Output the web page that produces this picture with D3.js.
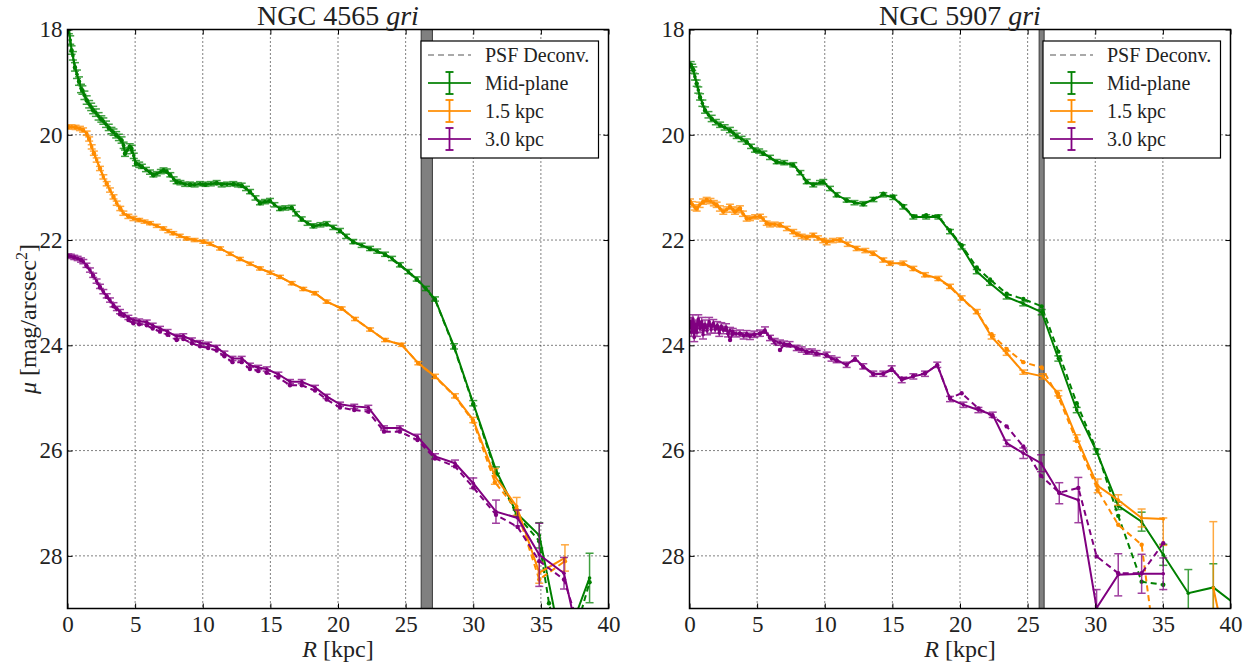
<!DOCTYPE html>
<html><head><meta charset="utf-8">
<script src="https://cdn.jsdelivr.net/npm/d3@7"></script>
<style>html,body{margin:0;padding:0;background:#fff;}svg{display:block;} svg text{font-family:'Liberation Serif','DejaVu Serif',serif;}</style>
</head><body>
<svg id="chart" width="1251" height="668"></svg>
<script>
// ---------- DATA ----------
const xTicks = [0,5,10,15,20,25,30,35,40];
const yTicks = [18,20,22,24,26,28];
const legendLabels = ["PSF Deconv.","Mid-plane","1.5 kpc","3.0 kpc"];
const galaxies = ["NGC 4565","NGC 5907"];
const maskBand4565 = [26.15, 26.98];
const maskBand5907 = [25.85, 26.22];

// NGC 4565 — [R kpc, mu, err]
const n4565_mid = [[0.1,18.0,0.08],[0.2,18.2,0.08],[0.3,18.39,0.08],[0.4,18.5,0.08],[0.55,18.71,0.08],[0.7,18.85,0.08],[0.85,18.98,0.08],[1.0,19.12,0.08],[1.1,19.15,0.08],[1.25,19.25,0.08],[1.42,19.34,0.08],[1.6,19.42,0.07],[1.75,19.47,0.07],[1.9,19.53,0.07],[2.1,19.58,0.07],[2.3,19.65,0.07],[2.5,19.7,0.06],[2.65,19.74,0.06],[2.85,19.8,0.06],[3.05,19.86,0.06],[3.25,19.92,0.06],[3.4,19.95,0.06],[3.6,20.0,0.06],[3.8,20.05,0.06],[4.0,20.1,0.06],[4.15,20.2,0.06],[4.25,20.35,0.06],[4.4,20.3,0.06],[4.6,20.22,0.05],[4.75,20.25,0.05],[4.9,20.4,0.05],[5.06,20.54,0.05],[5.3,20.57,0.05],[5.5,20.6,0.04],[5.8,20.66,0.04],[6.1,20.71,0.04],[6.35,20.76,0.04],[6.6,20.74,0.04],[6.9,20.7,0.04],[7.1,20.67,0.04],[7.35,20.69,0.04],[7.6,20.76,0.04],[7.85,20.84,0.04],[8.07,20.89,0.04],[8.35,20.91,0.04],[8.7,20.94,0.04],[9.06,20.94,0.04],[9.4,20.95,0.04],[9.8,20.93,0.04],[10.2,20.94,0.04],[10.6,20.93,0.04],[11.03,20.91,0.04],[11.4,20.95,0.04],[11.8,20.94,0.04],[12.26,20.93,0.04],[12.6,20.95,0.04],[12.88,20.96,0.04],[13.2,21.02,0.04],[13.5,21.08,0.04],[13.9,21.2,0.04],[14.23,21.29,0.04],[14.6,21.27,0.04],[14.97,21.25,0.04],[15.3,21.33,0.04],[15.71,21.4,0.04],[16.1,21.39,0.04],[16.58,21.38,0.04],[16.9,21.5,0.04],[17.32,21.6,0.04],[17.75,21.68,0.04],[18.18,21.73,0.04],[18.7,21.71,0.04],[19.16,21.69,0.04],[19.65,21.76,0.04],[20.15,21.82,0.04],[20.6,21.93,0.04],[21.13,22.03,0.04],[21.75,22.1,0.04],[22.37,22.16,0.04],[22.9,22.21,0.04],[23.48,22.27,0.04],[24.0,22.35,0.04],[24.58,22.47,0.04],[25.2,22.6,0.04],[25.82,22.74,0.04],[26.5,22.92,0.04],[27.17,23.12,0.04],[28.58,24.02,0.05],[30.0,25.1,0.05],[31.68,26.37,0.06],[33.21,27.19,0.06],[34.88,27.61,0.24],[36.6,29.8,0.4],[38.6,28.42,0.47]];
const n4565_mid_psf = [[0.1,18.0],[0.3,18.4],[0.55,18.72],[0.85,18.99],[1.1,19.16],[1.42,19.35],[1.9,19.54],[2.5,19.71],[3.05,19.87],[3.6,20.01],[4.0,20.11],[4.25,20.36],[4.6,20.23],[5.06,20.55],[5.5,20.61],[6.35,20.77],[7.1,20.68],[7.6,20.77],[8.07,20.9],[9.06,20.95],[10.2,20.95],[11.03,20.92],[12.26,20.94],[12.88,20.97],[13.5,21.09],[14.23,21.3],[14.97,21.26],[15.71,21.41],[16.58,21.39],[17.32,21.61],[18.18,21.74],[19.16,21.7],[20.15,21.83],[21.13,22.04],[22.37,22.17],[23.48,22.28],[24.58,22.48],[25.82,22.75],[27.17,23.13],[28.58,24.04],[30.0,25.12],[31.68,26.42],[33.21,27.22],[34.88,27.72],[35.6,28.9],[36.6,29.9],[37.6,29.4],[38.6,28.5]];
const n4565_15 = [[0.06,19.85,0.04],[0.3,19.85,0.04],[0.6,19.86,0.04],[0.92,19.88,0.04],[1.15,19.91,0.04],[1.42,19.97,0.04],[1.6,20.08,0.04],[1.79,20.23,0.04],[1.95,20.35,0.04],[2.16,20.48,0.04],[2.4,20.64,0.04],[2.65,20.8,0.04],[2.9,20.93,0.04],[3.14,21.05,0.04],[3.4,21.18,0.04],[3.64,21.3,0.04],[3.9,21.4,0.04],[4.13,21.49,0.04],[4.5,21.55,0.04],[4.87,21.59,0.04],[5.3,21.62,0.03],[5.7,21.65,0.03],[6.1,21.68,0.03],[6.6,21.73,0.03],[7.08,21.78,0.03],[7.45,21.83,0.03],[7.82,21.87,0.03],[8.3,21.92,0.03],[8.81,21.97,0.03],[9.4,22.0,0.03],[10.04,22.03,0.03],[10.54,22.07,0.03],[11.28,22.16,0.03],[12.0,22.26,0.03],[12.75,22.36,0.03],[13.5,22.45,0.03],[14.23,22.54,0.03],[15.0,22.62,0.03],[15.71,22.7,0.03],[16.58,22.82,0.03],[17.43,22.93,0.03],[18.3,23.01,0.03],[19.16,23.17,0.03],[20.27,23.3,0.03],[21.26,23.5,0.03],[22.37,23.7,0.03],[23.48,23.9,0.03],[24.71,23.99,0.03],[25.94,24.34,0.03],[27.17,24.59,0.04],[28.65,24.96,0.04],[30.0,25.42,0.05],[31.6,26.49,0.15],[33.21,27.06,0.17],[34.88,28.32,0.2],[36.78,28.04,0.25]];
const n4565_15_psf = [[0.06,19.85],[0.6,19.86],[1.15,19.91],[1.6,20.08],[1.95,20.35],[2.4,20.64],[2.9,20.93],[3.4,21.18],[3.9,21.4],[4.5,21.55],[5.3,21.62],[6.1,21.68],[7.08,21.78],[7.82,21.87],[8.81,21.97],[10.04,22.03],[11.28,22.16],[12.75,22.36],[14.23,22.54],[15.71,22.7],[16.58,22.82],[17.43,22.93],[18.3,23.01],[19.16,23.17],[20.27,23.3],[21.26,23.5],[22.37,23.7],[23.48,23.9],[24.71,23.99],[25.94,24.34],[27.17,24.6],[28.65,24.97],[30.0,25.45],[31.6,26.6],[33.21,27.12],[34.88,28.45],[36.78,28.1]];
const n4565_30 = [[0.06,22.3,0.04],[0.25,22.31,0.04],[0.5,22.33,0.04],[0.75,22.35,0.04],[1.0,22.38,0.04],[1.17,22.41,0.04],[1.4,22.48,0.04],[1.66,22.57,0.04],[1.9,22.67,0.04],[2.15,22.78,0.04],[2.4,22.88,0.04],[2.65,22.98,0.04],[2.9,23.06,0.04],[3.14,23.14,0.04],[3.4,23.23,0.04],[3.65,23.3,0.04],[3.88,23.36,0.04],[4.2,23.42,0.04],[4.5,23.47,0.04],[4.87,23.52,0.04],[5.3,23.54,0.04],[5.86,23.56,0.04],[6.3,23.62,0.04],[6.84,23.68,0.04],[7.4,23.74,0.04],[8.07,23.83,0.04],[8.56,23.82,0.04],[9.2,23.9,0.04],[9.8,23.95,0.04],[10.4,23.98,0.04],[11.03,24.04,0.04],[11.6,24.15,0.04],[12.2,24.25,0.04],[12.88,24.25,0.04],[13.49,24.38,0.04],[14.1,24.42,0.04],[14.73,24.45,0.04],[15.59,24.55,0.04],[16.45,24.69,0.04],[17.32,24.69,0.04],[18.3,24.8,0.04],[19.16,24.97,0.04],[20.15,25.12,0.04],[21.2,25.16,0.04],[22.24,25.18,0.04],[23.4,25.57,0.04],[24.58,25.57,0.04],[25.88,25.74,0.05],[27.17,26.11,0.05],[28.65,26.24,0.06],[30.0,26.62,0.1],[31.68,27.16,0.22],[33.28,27.28,0.15],[34.88,27.98,0.6],[36.71,28.33,0.3],[38.4,30.3,0.3]];
const n4565_30_psf = [[0.06,22.3],[0.5,22.33],[1.0,22.38],[1.4,22.49],[1.9,22.68],[2.4,22.9],[2.9,23.08],[3.4,23.26],[3.88,23.41],[4.5,23.52],[4.87,23.58],[5.3,23.6],[5.86,23.62],[6.3,23.68],[6.84,23.74],[7.4,23.8],[8.07,23.9],[8.56,23.88],[9.2,23.96],[9.8,24.02],[10.4,24.05],[11.03,24.1],[11.6,24.21],[12.2,24.32],[12.88,24.32],[13.49,24.45],[14.1,24.49],[14.73,24.52],[15.59,24.61],[16.45,24.76],[17.32,24.76],[18.3,24.86],[19.16,25.03],[20.15,25.18],[21.2,25.23],[22.24,25.26],[23.4,25.64],[24.58,25.64],[25.88,25.8],[27.17,26.15],[28.65,26.3],[30.0,26.7],[31.68,27.22],[33.28,27.45],[34.88,28.1],[36.71,28.45],[38.0,29.5]];

// NGC 5907 — [R kpc, mu, err] (err may be [up, down])
const n5907_mid = [[0.09,18.67,0.06],[0.2,18.72,0.06],[0.28,18.77,0.06],[0.4,18.9,0.06],[0.53,19.02,0.06],[0.65,19.15,0.06],[0.78,19.28,0.06],[0.95,19.4,0.06],[1.15,19.53,0.06],[1.4,19.62,0.06],[1.64,19.69,0.06],[1.95,19.76,0.05],[2.26,19.81,0.05],[2.6,19.86,0.05],[2.99,19.91,0.05],[3.25,19.97,0.05],[3.49,20.02,0.05],[3.85,20.08,0.05],[4.23,20.13,0.05],[4.55,20.22,0.04],[4.84,20.29,0.04],[5.15,20.31,0.04],[5.46,20.35,0.04],[5.95,20.43,0.04],[6.45,20.51,0.04],[7.0,20.53,0.04],[7.67,20.57,0.04],[8.2,20.72,0.04],[8.67,20.89,0.04],[9.15,20.95,0.04],[9.65,20.91,0.04],[9.89,20.89,0.04],[10.39,21.02,0.04],[10.88,21.14,0.04],[11.62,21.24,0.04],[12.2,21.29,0.04],[12.85,21.31,0.04],[13.6,21.23,0.04],[14.33,21.14,0.04],[15.07,21.19,0.04],[15.81,21.37,0.04],[16.55,21.56,0.04],[17.5,21.56,0.04],[18.4,21.56,0.04],[19.26,21.84,0.04],[20.12,22.13,0.04],[21.24,22.6,0.04],[22.22,22.82,0.04],[23.45,23.08,0.04],[24.68,23.21,0.04],[26.04,23.37,0.05],[27.27,24.25,0.05],[28.63,25.23,0.05],[30.1,26.02,0.05],[31.7,27.05,0.07],[33.43,27.35,0.18],[35.03,27.98,0.2],[36.88,28.71,0.45],[38.73,28.6,0.45],[40.5,28.95,0.45]];
const n5907_mid_psf = [[0.09,18.67],[0.28,18.77],[0.53,19.03],[0.78,19.29],[1.15,19.54],[1.64,19.7],[2.26,19.82],[2.99,19.92],[3.49,20.03],[4.23,20.14],[4.84,20.3],[5.46,20.36],[6.45,20.52],[7.67,20.58],[8.67,20.9],[9.15,20.95],[9.89,20.9],[10.88,21.15],[11.62,21.25],[12.85,21.32],[13.6,21.22],[14.33,21.12],[15.07,21.17],[15.81,21.35],[16.55,21.55],[17.5,21.53],[18.4,21.55],[19.26,21.82],[20.12,22.1],[21.24,22.52],[22.22,22.75],[23.45,23.02],[24.68,23.12],[26.04,23.26],[27.27,24.12],[28.63,25.1],[30.1,25.99],[31.7,27.24],[33.43,28.49],[35.03,28.55]];
const n5907_15 = [[0.04,21.27,0.05],[0.2,21.32,0.05],[0.4,21.38,0.05],[0.53,21.4,0.05],[0.75,21.33,0.05],[1.0,21.27,0.05],[1.27,21.24,0.05],[1.55,21.26,0.05],[1.8,21.3,0.05],[2.01,21.33,0.05],[2.25,21.4,0.05],[2.5,21.46,0.05],[2.75,21.42,0.05],[2.99,21.37,0.05],[3.2,21.42,0.05],[3.36,21.46,0.05],[3.55,21.43,0.05],[3.73,21.4,0.05],[3.95,21.5,0.05],[4.23,21.59,0.05],[4.47,21.59,0.04],[4.85,21.56,0.04],[5.21,21.55,0.04],[5.45,21.6,0.04],[5.71,21.68,0.04],[5.95,21.71,0.04],[6.3,21.7,0.04],[6.69,21.71,0.04],[7.2,21.78,0.04],[7.67,21.84,0.04],[7.93,21.89,0.04],[8.3,21.93,0.04],[8.67,21.95,0.04],[9.15,21.91,0.04],[9.5,21.96,0.04],[9.89,22.01,0.04],[10.14,22.05,0.04],[10.6,22.01,0.04],[11.13,22.0,0.04],[11.7,22.08,0.04],[12.36,22.16,0.04],[13.0,22.2,0.04],[13.59,22.25,0.04],[14.33,22.38,0.04],[14.82,22.44,0.04],[15.81,22.44,0.04],[16.55,22.54,0.04],[17.41,22.66,0.04],[18.4,22.73,0.04],[19.26,22.88,0.04],[20.12,23.1,0.04],[21.24,23.36,0.04],[22.34,23.84,0.04],[23.45,24.15,0.04],[24.68,24.51,0.04],[26.11,24.59,0.05],[27.27,24.91,0.05],[28.63,25.76,0.06],[30.18,26.67,0.13],[31.7,26.94,0.1],[33.43,27.28,0.17],[35.03,27.3,[0.02,0.5]],[36.88,null,0],[38.73,28.61,1.26],[40.3,30.5,0]];
const n5907_15_psf = [[0.04,21.27],[0.53,21.4],[1.0,21.28],[1.27,21.24],[2.01,21.34],[2.5,21.46],[2.99,21.37],[3.36,21.46],[3.73,21.4],[4.23,21.59],[5.21,21.55],[5.71,21.68],[6.69,21.72],[7.67,21.85],[8.67,21.95],[9.15,21.91],[9.89,22.01],[11.13,22.0],[12.36,22.16],[13.59,22.26],[14.33,22.38],[14.82,22.44],[15.81,22.45],[16.55,22.55],[17.41,22.67],[18.4,22.74],[19.26,22.89],[20.12,23.11],[21.24,23.37],[22.34,23.79],[23.45,24.07],[24.68,24.32],[26.04,24.42],[27.27,24.98],[28.63,25.82],[30.18,26.75],[31.7,27.41],[33.43,27.79],[34.2,29.3]];
const n5907_30 = [[0.04,23.55,0.08],[0.15,23.75,0.08],[0.25,23.5,0.08],[0.35,23.85,0.08],[0.45,23.6,0.08],[0.55,23.75,0.08],[0.65,23.5,0.08],[0.78,23.68,0.08],[0.9,23.55,0.08],[1.0,23.8,0.08],[1.15,23.6,0.08],[1.3,23.72,0.08],[1.45,23.55,0.08],[1.6,23.7,0.07],[1.76,23.58,0.07],[1.9,23.7,0.07],[2.05,23.62,0.07],[2.2,23.76,0.07],[2.35,23.64,0.07],[2.5,23.71,0.07],[2.7,23.66,0.07],[2.85,23.78,0.06],[3.0,23.72,0.06],[3.2,23.74,0.06],[3.45,23.78,0.06],[3.73,23.77,0.06],[4.0,23.82,0.06],[4.23,23.78,0.06],[4.47,23.83,0.06],[4.8,23.79,0.06],[5.21,23.77,0.06],[5.58,23.71,0.06],[5.95,23.86,0.05],[6.3,23.92,0.05],[6.69,23.95,0.05],[7.0,23.97,0.05],[7.4,23.98,0.05],[7.93,24.05,0.05],[8.3,24.08,0.05],[8.67,24.12,0.05],[9.05,24.12,0.05],[9.4,24.15,0.05],[10.14,24.18,0.05],[10.5,24.25,0.05],[10.88,24.28,0.05],[11.62,24.37,0.05],[12.24,24.25,0.05],[12.85,24.4,0.05],[13.59,24.54,0.05],[14.33,24.54,0.05],[14.95,24.44,0.05],[15.69,24.66,0.05],[16.55,24.59,0.05],[17.41,24.54,0.05],[18.32,24.37,0.05],[19.26,25.02,0.05],[20.25,25.13,0.05],[21.36,25.23,0.05],[22.42,25.32,0.05],[23.45,25.86,0.06],[24.68,26.05,0.1],[25.99,26.24,0.16],[27.34,26.81,0.2],[28.75,26.94,0.43],[30.1,28.99,0.35],[31.7,28.36,0.4],[33.43,28.34,0.37],[35.03,28.34,0.3]];
const n5907_30_psf = [[0.04,23.6],[0.25,23.55],[0.45,23.65],[0.65,23.55],[0.9,23.6],[1.15,23.65],[1.45,23.6],[1.76,23.62],[2.05,23.66],[2.35,23.67],[2.7,23.7],[3.0,23.9],[3.2,23.78],[3.73,23.78],[4.23,23.8],[4.8,23.8],[5.21,23.78],[5.58,23.74],[5.95,23.85],[6.69,24.09],[7.0,23.99],[7.93,24.06],[8.67,24.13],[9.4,24.16],[10.14,24.19],[10.88,24.29],[11.62,24.37],[12.24,24.27],[12.85,24.41],[13.59,24.55],[14.33,24.54],[14.95,24.47],[15.69,24.63],[16.55,24.58],[17.41,24.53],[18.32,24.38],[19.26,25.0],[20.12,24.91],[21.36,25.2],[22.42,25.35],[23.45,25.54],[24.68,25.92],[25.99,26.48],[27.34,26.8],[28.75,26.71],[30.1,28.01],[31.7,28.33],[33.43,28.33],[35.03,27.76]];

// ---------- STYLE / LAYOUT ----------
const colors = {mid:"#008000", k15:"#ff8c00", k30:"#800080"};
const FONT = "'Liberation Serif','DejaVu Serif',serif";
const plotTop = 29.5, plotBottom = 608.5, pw = 541;
const panels = [
  {title: galaxies[0], left: 67.5, band: maskBand4565, ylabel: true,
   series: [[n4565_mid,n4565_mid_psf,colors.mid],[n4565_15,n4565_15_psf,colors.k15],[n4565_30,n4565_30_psf,colors.k30]]},
  {title: galaxies[1], left: 689.5, band: maskBand5907, ylabel: false,
   series: [[n5907_mid,n5907_mid_psf,colors.mid],[n5907_15,n5907_15_psf,colors.k15],[n5907_30,n5907_30_psf,colors.k30]]}
];

const svg = d3.select("#chart");
svg.append("rect").attr("width",1251).attr("height",668).attr("fill","#fff");

panels.forEach((p, pi) => {
  const x = d3.scaleLinear().domain([0,40]).range([p.left, p.left + pw]);
  const y = d3.scaleLinear().domain([18,29]).range([plotTop, plotBottom]);
  const g = svg.append("g");
  const clipId = "clip" + pi;
  svg.append("clipPath").attr("id", clipId).append("rect")
     .attr("x", p.left).attr("y", plotTop).attr("width", pw).attr("height", plotBottom - plotTop);

  const grid = g.append("g").attr("stroke","#000").attr("stroke-width",1).attr("stroke-dasharray","1,3").attr("fill","none");
  xTicks.slice(1,-1).forEach(t => grid.append("line").attr("x1",x(t)).attr("x2",x(t)).attr("y1",plotTop).attr("y2",plotBottom));
  yTicks.slice(1).forEach(t => grid.append("line").attr("x1",p.left).attr("x2",p.left+pw).attr("y1",y(t)).attr("y2",y(t)));

  g.append("rect").attr("x", x(p.band[0])).attr("y", plotTop).attr("width", x(p.band[1]) - x(p.band[0]))
   .attr("height", plotBottom - plotTop).attr("fill","#808080").attr("stroke","#3a3a3a").attr("stroke-width",1);

  const plot = g.append("g").attr("clip-path", `url(#${clipId})`);
  const line = d3.line().defined(d => d[1] !== null).x(d => x(d[0])).y(d => y(d[1]));

  p.series.forEach(([solid, psf, col]) => {
    plot.append("path").datum(psf).attr("d", line).attr("fill","none").attr("stroke",col)
      .attr("stroke-width",2).attr("stroke-dasharray","6,4");
    plot.append("g").selectAll("circle").data(psf).join("circle")
      .attr("cx", d => x(d[0])).attr("cy", d => y(d[1])).attr("r",2.2).attr("fill",col);
    plot.append("path").datum(solid).attr("d", line).attr("fill","none").attr("stroke",col).attr("stroke-width",2);
    const eb = plot.append("g").attr("stroke",col).attr("stroke-width",1.5).attr("opacity",0.75);
    solid.filter(d => d[1] !== null && d[2]).forEach(d => {
      const up = Array.isArray(d[2]) ? d[2][0] : d[2];
      const dn = Array.isArray(d[2]) ? d[2][1] : d[2];
      const cx = x(d[0]), y1 = y(d[1] - up), y2 = y(d[1] + dn);
      eb.append("line").attr("x1",cx).attr("x2",cx).attr("y1",y1).attr("y2",y2);
      eb.append("line").attr("x1",cx-4).attr("x2",cx+4).attr("y1",y1).attr("y2",y1);
      eb.append("line").attr("x1",cx-4).attr("x2",cx+4).attr("y1",y2).attr("y2",y2);
    });
    plot.append("g").selectAll("circle").data(solid.filter(d => d[1] !== null)).join("circle")
      .attr("cx", d => x(d[0])).attr("cy", d => y(d[1])).attr("r",1.8).attr("fill",col);
  });

  const styleAxis = sel => {
    sel.attr("font-family", FONT).attr("font-size", 23);
    sel.select(".domain").remove();
    sel.selectAll(".tick line").attr("stroke","#000").attr("stroke-width",1);
    sel.selectAll("text").style("font-family",FONT).style("font-size","23px").attr("fill","#222");
  };
  g.append("g").attr("transform",`translate(0,${plotBottom})`)
    .call(d3.axisBottom(x).tickValues(xTicks).tickSize(-5).tickPadding(7).tickFormat(d3.format("d"))).call(styleAxis);
  g.append("g").attr("transform",`translate(0,${plotTop})`)
    .call(d3.axisTop(x).tickValues(xTicks).tickSize(-5).tickFormat("")).call(styleAxis);
  g.append("g").attr("transform",`translate(${p.left},0)`)
    .call(d3.axisLeft(y).tickValues(yTicks).tickSize(-5).tickPadding(5).tickFormat(d3.format("d"))).call(styleAxis);
  g.append("g").attr("transform",`translate(${p.left+pw},0)`)
    .call(d3.axisRight(y).tickValues(yTicks).tickSize(-5).tickFormat("")).call(styleAxis);

  g.append("rect").attr("x",p.left).attr("y",plotTop).attr("width",pw).attr("height",plotBottom-plotTop)
    .attr("fill","none").attr("stroke","#000").attr("stroke-width",1.5);

  const cx = p.left + pw/2;
  const t = g.append("text").attr("x",cx).attr("y",25).attr("text-anchor","middle")
    .style("font-family",FONT).attr("font-size",28).attr("fill","#222");
  t.append("tspan").text(p.title + " ");
  t.append("tspan").attr("font-style","italic").text("gri");

  const xl = g.append("text").attr("x",cx).attr("y",657).attr("text-anchor","middle")
    .style("font-family",FONT).attr("font-size",24).attr("fill","#222");
  xl.append("tspan").attr("font-style","italic").text("R");
  xl.append("tspan").text(" [kpc]");

  if (p.ylabel) {
    const yl = g.append("text").attr("transform",`translate(36,${(plotTop+plotBottom)/2}) rotate(-90)`)
      .attr("text-anchor","middle").style("font-family",FONT).attr("font-size",24).attr("fill","#222");
    yl.append("tspan").attr("font-style","italic").text("μ");
    yl.append("tspan").text(" [mag/arcsec");
    yl.append("tspan").attr("font-size",16).attr("dy",-9).text("2");
    yl.append("tspan").attr("dy",9).text("]");
  }

  const lx = p.left + pw - 187.5, ly = 41, lw = 177.5, lh = 117;
  const lg = g.append("g");
  lg.append("rect").attr("x",lx).attr("y",ly).attr("width",lw).attr("height",lh)
    .attr("fill","#fff").attr("stroke","#000").attr("stroke-width",1.2);
  const rows = [14, 42, 70, 98];
  const legCols = ["#555", colors.mid, colors.k15, colors.k30];
  legendLabels.forEach((lab, i) => {
    const ry = ly + rows[i];
    const x1 = lx + 7, x2 = lx + 50, xm = (x1 + x2) / 2;
    if (i === 0) {
      lg.append("line").attr("x1",x1).attr("x2",x2).attr("y1",ry).attr("y2",ry)
        .attr("stroke",legCols[i]).attr("stroke-width",1.2).attr("stroke-dasharray","6,4");
    } else {
      lg.append("line").attr("x1",x1).attr("x2",x2).attr("y1",ry).attr("y2",ry)
        .attr("stroke",legCols[i]).attr("stroke-width",2).attr("opacity",0.85);
      const e = lg.append("g").attr("stroke",legCols[i]).attr("stroke-width",1.8);
      e.append("line").attr("x1",xm).attr("x2",xm).attr("y1",ry-11).attr("y2",ry+11);
      e.append("line").attr("x1",xm-4).attr("x2",xm+4).attr("y1",ry-11).attr("y2",ry-11);
      e.append("line").attr("x1",xm-4).attr("x2",xm+4).attr("y1",ry+11).attr("y2",ry+11);
    }
    lg.append("text").attr("x", lx + 64).attr("y", ry + 7).style("font-family",FONT)
      .attr("font-size",20).attr("fill","#222").text(lab);
  });
});
</script>
</body></html>
